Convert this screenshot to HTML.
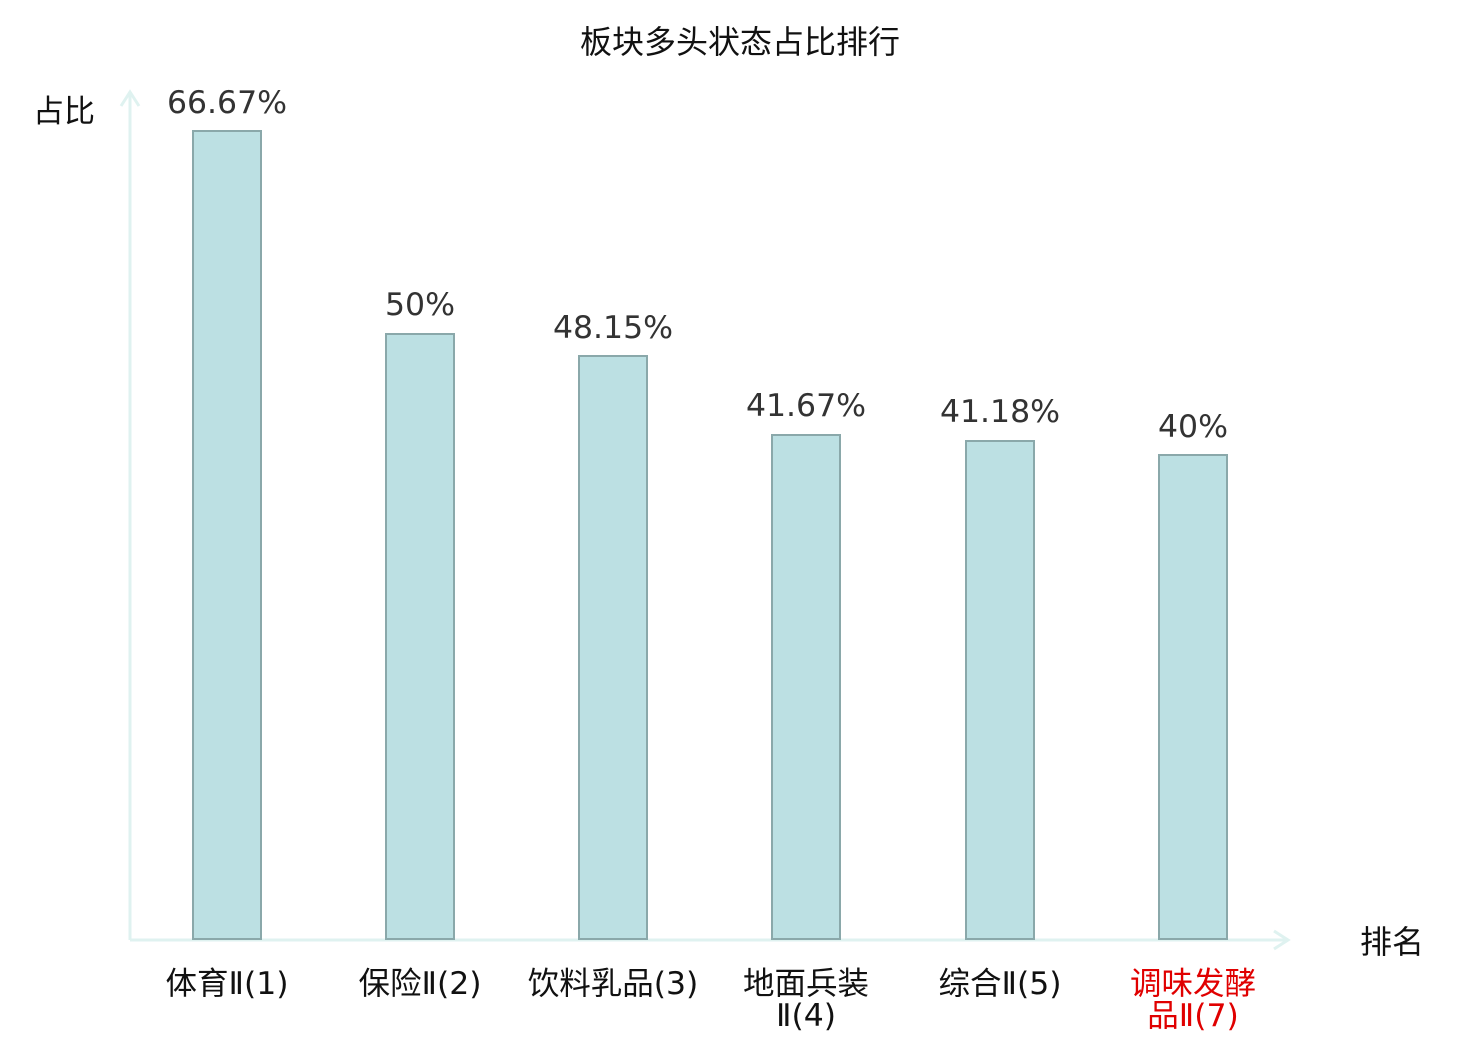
<!DOCTYPE html>
<html><head><meta charset="utf-8"><style>
html,body{margin:0;padding:0;background:#fff;}
text{font-family:"DejaVu Sans","Noto Sans CJK SC",sans-serif;}
</style></head><body>
<svg width="1480" height="1040" xmlns="http://www.w3.org/2000/svg">
<text x="740" y="53" text-anchor="middle" font-size="32" fill="#111" font-family="Noto Sans CJK SC, sans-serif">板块多头状态占比排行</text>
<g stroke="#dff2f0" stroke-width="3" fill="none">
<line x1="130" y1="940" x2="130" y2="92"/>
<polyline points="121,106 130,92 139,106"/>
<line x1="130" y1="940" x2="1288" y2="940"/>
<polyline points="1274,931 1288,940 1274,949"/>
</g>
<text x="33" y="122" font-size="31" fill="#111" font-family="Noto Sans CJK SC, sans-serif">占比</text>
<text x="1360" y="953" font-size="32" fill="#111" font-family="Noto Sans CJK SC, sans-serif">排名</text>
<g fill="#bce0e3" stroke="#8aa8aa" stroke-width="2">
<rect x="193" y="131" width="68" height="808"/>
<rect x="386" y="334" width="68" height="605"/>
<rect x="579" y="356" width="68" height="583"/>
<rect x="772" y="435" width="68" height="504"/>
<rect x="966" y="441" width="68" height="498"/>
<rect x="1159" y="455" width="68" height="484"/>
</g>
<g font-size="31.5" fill="#333" text-anchor="middle">
<text x="227" y="113">66.67%</text>
<text x="420" y="315">50%</text>
<text x="613" y="338">48.15%</text>
<text x="806" y="416">41.67%</text>
<text x="1000" y="422">41.18%</text>
<text x="1193" y="437">40%</text>
</g>
<g font-size="31.5" fill="#111" text-anchor="middle" font-family="Noto Sans CJK SC, sans-serif">
<text x="227" y="994">体育Ⅱ(1)</text>
<text x="420" y="994">保险Ⅱ(2)</text>
<text x="613" y="994">饮料乳品(3)</text>
<text x="806" y="994">地面兵装</text>
<text x="806" y="1026">Ⅱ(4)</text>
<text x="1000" y="994">综合Ⅱ(5)</text>
<text x="1193" y="994" fill="#e00000">调味发酵</text>
<text x="1193" y="1026" fill="#e00000">品Ⅱ(7)</text>
</g>
</svg>
</body></html>
